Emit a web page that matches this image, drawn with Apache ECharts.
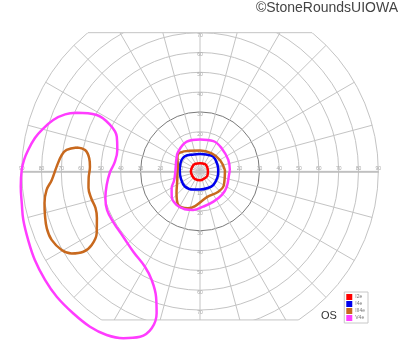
<!DOCTYPE html>
<html><head><meta charset="utf-8">
<script src="https://cdn.jsdelivr.net/npm/echarts@6/dist/echarts.min.js"></script>
<style>html,body{margin:0;padding:0;background:#fff}#c{width:400px;height:352px}</style>
</head><body><div id="c"></div>
<script>
// Isopter names and colours
const isopterNames = ['I2e', 'I4e', 'III4e', 'V4e'];
const isopterColors = ['#ff0000', '#0000ee', '#c8691e', '#ff3cff'];
// tick labels along the horizontal and vertical meridians (degrees)
const hTickLabels = [10, 20, 30, 40, 50, 60, 70, 80, 90];
const vTickLabels = [10, 20, 30, 40, 50, 60, 70];
// data points: [eccentricity (deg), meridian angle (deg)]
const i2eCentral = [[4.0,0],[4.2,30],[4.4,55],[4.1,90],[4.4,120],[4.6,140],[4.6,180],[4.5,210],[4.6,235],[4.5,270],[4.2,300],[4.3,330],[4.0,360]];
const i4eCentral = [[9.2,0],[9.4,20],[10.0,48],[9.0,70],[8.7,90],[9.0,110],[10.8,135],[10.6,160],[10.2,180],[10.3,200],[10.8,225],[9.8,250],[9.2,270],[9.3,295],[9.6,315],[9.3,340],[9.2,360]];
const iii4eCentral = [[12.6,3],[11.6,29],[10.8,57],[10.5,90],[11.6,116],[14.0,138],[13.6,147],[11.4,168],[11.4,182],[12.3,201],[16.2,223],[20.2,237],[19.6,252],[17.7,262],[13.5,285],[13.8,312],[13.9,330],[12.6,363]];
const iii4eIsland = [[63.4,169.0],[59.0,169.5],[56.3,173.3],[55.6,177.6],[56.3,183.4],[56.9,188.5],[56.5,194.3],[55.9,199.3],[57.1,204.3],[60.7,210.8],[66.1,214.2],[71.5,214.6],[76.9,212.6],[80.3,209.6],[82.5,204.8],[82.5,200.4],[81.3,195.7],[80.1,191.5],[78.0,186.9],[75.0,183.4],[72.4,178.1],[70.3,173.3],[68.2,170.9],[63.4,169.0]];
const v4eCentral = [[15.1,1],[15.4,22],[16.0,47],[16.7,66],[16.1,90],[16.4,114],[14.8,138],[13.3,154],[12.4,177],[13.8,199],[16.7,211],[19.2,222],[20.7,235],[20.6,248],[19.8,260],[17.9,275],[16.7,294],[16.2,313],[15.6,330],[14.8,356],[15.1,361]];
const v4eIsland = [[68.9,154.6],[59.4,151.4],[51.1,152.7],[45.5,157.4],[43.1,165.5],[43.4,174.4],[45.4,180.4],[47.6,188.3],[49.6,195.7],[50.8,202.6],[50.7,210.3],[50.9,220.4],[52.7,230.3],[55.6,240.0],[60.0,246.0],[67.1,250.7],[74.9,253.0],[82.9,252.9],[88.8,250.1],[92.7,245.3],[95.1,240.3],[96.1,234.7],[96.1,228.2],[96.1,221.2],[95.5,215.0],[94.6,208.2],[93.4,201.8],[92.5,195.4],[91.4,190.2],[90.8,184.9],[90.0,179.6],[89.0,176.3],[87.4,172.9],[85.0,168.6],[82.5,165.3],[78.5,160.7],[73.9,157.1],[68.9,154.6]];

// layout
const CX = 200, CY = 171.35, R = 178.3, MAXR = 90, DATA_MAXR = 100, TOP_CLIP = 70, BOTTOM_CLIP = 75;
const sc = R / MAXR;
const yTop = CY - TOP_CLIP * sc, yBot = CY + BOTTOM_CLIP * sc;
const hwTop = Math.sqrt(MAXR * MAXR - TOP_CLIP * TOP_CLIP) * sc;
const hwBot = Math.sqrt(MAXR * MAXR - BOTTOM_CLIP * BOTTOM_CLIP) * sc;
const gridColor = '#c4c4c4';
const ringColors = ['#c4c4c4','#c4c4c4','#c4c4c4','#7a7a7a','#c4c4c4','#c4c4c4','#c4c4c4','#c4c4c4','#c4c4c4','#c4c4c4'];

const chart = echarts.init(document.getElementById('c'), null, {renderer: 'canvas'});
const labelStarts = [0, 90, 180, 270];
// polar 0: grid; polars 1-4: meridian labels; polar 5: data (same scale, larger extent)
const polar = [{center: [CX, CY], radius: R}]
  .concat(labelStarts.map(() => ({center: [CX, CY], radius: R})))
  .concat([{center: [CX, CY], radius: R * DATA_MAXR / MAXR}]);
const angleAxis = [{
  polarIndex: 0, type: 'value', min: 0, max: 360, interval: 15, startAngle: 0, clockwise: false, z: 0,
  axisLine: {show: false}, axisTick: {show: false}, axisLabel: {show: false},
  splitLine: {show: true, lineStyle: {color: gridColor, width: 1}}
}].concat(labelStarts.map((s, i) => ({polarIndex: i + 1, type: 'value', min: 0, max: 360, startAngle: s, clockwise: false, show: false})))
  .concat([{polarIndex: 5, type: 'value', min: 0, max: 360, startAngle: 0, clockwise: false, show: false}]);
const radiusAxis = [{
  polarIndex: 0, type: 'value', min: 0, max: MAXR, interval: 10, z: 0,
  axisLine: {show: false}, axisTick: {show: false}, axisLabel: {show: false},
  splitLine: {show: true, lineStyle: {color: ringColors, width: 1}}
}].concat(labelStarts.map((s, i) => {
  const horiz = (s === 0 || s === 180);
  return {
    polarIndex: i + 1, type: 'value', min: 0, max: MAXR, interval: 10, z: 2,
    axisLine: {show: horiz, lineStyle: {color: '#bcbcbc', width: 1.6}},
    axisTick: {show: false}, splitLine: {show: false},
    axisLabel: {show: true, customValues: horiz ? hTickLabels : vTickLabels, fontSize: 5, color: '#a8a8a8',
      margin: 0, align: 'center', verticalAlign: horiz ? 'bottom' : 'top', fontFamily: 'Liberation Sans'}
  };
})).concat([{polarIndex: 5, type: 'value', min: 0, max: DATA_MAXR, show: false}]);

function loop(idx, data) {
  const color = isopterColors[idx];
  return {type: 'line', name: isopterNames[idx], coordinateSystem: 'polar', polarIndex: 5, data: data,
    smooth: 0.4, showSymbol: false, symbol: 'none', clip: false, silent: true, z: 3,
    lineStyle: {width: 2.5, color: color}, itemStyle: {color: color}};
}

chart.setOption({
  animation: false,
  backgroundColor: '#fff',
  title: [
    {text: '©StoneRoundsUIOWA', right: 2, top: 1, padding: 0, z: 10,
     textStyle: {fontSize: 14, fontWeight: 'normal', color: '#444', fontFamily: 'Liberation Sans'}},
    {text: 'OS', left: 321, top: 310, padding: 0, z: 10,
     textStyle: {fontSize: 11, fontWeight: 'normal', color: '#333', fontFamily: 'Liberation Sans'}}
  ],
  legend: {data: isopterNames, orient: 'vertical', right: 32, top: 292, itemWidth: 6, itemHeight: 6, itemGap: 1,
    icon: 'rect', padding: [2, 3, 2, 2], borderColor: '#c8c8c8', borderWidth: 1, z: 10,
    textStyle: {fontSize: 5, color: '#777', fontFamily: 'Liberation Sans', padding: [0, 0, 0, -2]}},
  polar: polar,
  angleAxis: angleAxis,
  radiusAxis: radiusAxis,
  graphic: [
    {type: 'rect', z: 1, silent: true, shape: {x: 0, y: 0, width: 400, height: yTop}, style: {fill: '#fff'}},
    {type: 'rect', z: 1, silent: true, shape: {x: 0, y: yBot, width: 400, height: 352 - yBot}, style: {fill: '#fff'}},
    {type: 'line', z: 1, silent: true, shape: {x1: CX - hwTop, y1: yTop, x2: CX + hwTop, y2: yTop}, style: {stroke: gridColor, lineWidth: 1}},
    {type: 'line', z: 1, silent: true, shape: {x1: CX - hwBot, y1: yBot, x2: CX + hwBot, y2: yBot}, style: {stroke: gridColor, lineWidth: 1}}
  ],
  series: [
    loop(0, i2eCentral),
    loop(1, i4eCentral),
    loop(2, iii4eCentral),
    loop(2, iii4eIsland),
    loop(3, v4eCentral),
    loop(3, v4eIsland)
  ]
});
</script></body></html>
